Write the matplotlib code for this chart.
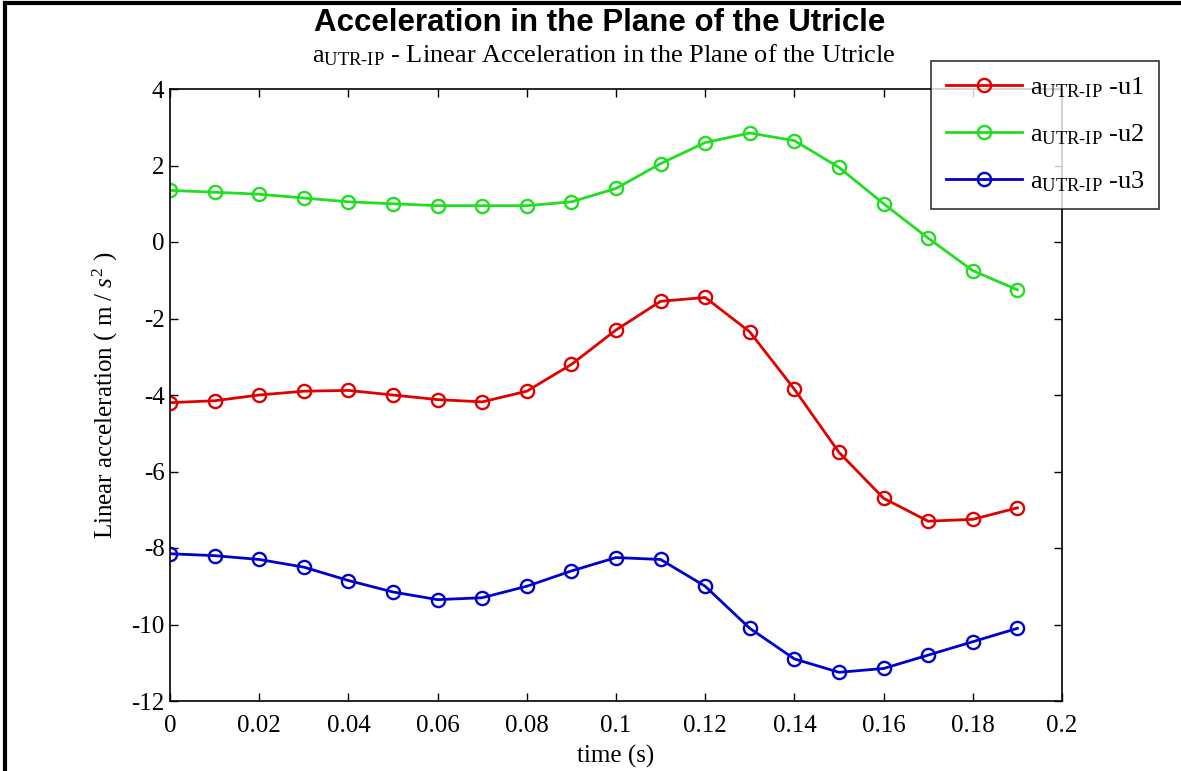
import matplotlib
matplotlib.use("Agg")
import matplotlib.pyplot as plt
from matplotlib.lines import Line2D

# time samples (s)
time = [0.00, 0.01, 0.02, 0.03, 0.04, 0.05, 0.06, 0.07, 0.08, 0.09,
        0.10, 0.11, 0.12, 0.13, 0.14, 0.15, 0.16, 0.17, 0.18, 0.19]

# linear acceleration in the plane of the utricle (m/s^2)
u1 = [-4.20, -4.15, -4.00, -3.90, -3.88, -4.00, -4.12, -4.18, -3.90, -3.20,
      -2.30, -1.55, -1.45, -2.35, -3.85, -5.50, -6.70, -7.30, -7.25, -6.95]
u2 = [1.35, 1.30, 1.25, 1.15, 1.05, 1.00, 0.95, 0.95, 0.95, 1.05,
      1.40, 2.05, 2.60, 2.85, 2.65, 1.95, 1.00, 0.10, -0.75, -1.25]
u3 = [-8.15, -8.20, -8.30, -8.50, -8.85, -9.15, -9.35, -9.30, -9.00, -8.60,
      -8.25, -8.30, -9.00, -10.10, -10.90, -11.25, -11.15, -10.80, -10.45, -10.10]

series = [("-u1", u1, "#e00000"), ("-u2", u2, "#22dd22"), ("-u3", u3, "#0000cc")]
xticks = [0, 0.02, 0.04, 0.06, 0.08, 0.1, 0.12, 0.14, 0.16, 0.18, 0.2]
xticklabels = ["0", "0.02", "0.04", "0.06", "0.08", "0.1", "0.12", "0.14", "0.16", "0.18", "0.2"]
yticks = [-12, -10, -8, -6, -4, -2, 0, 2, 4]

plt.rcParams["font.family"] = "Liberation Serif"
plt.rcParams["mathtext.fontset"] = "custom"
plt.rcParams["mathtext.rm"] = "Liberation Serif"
plt.rcParams["mathtext.it"] = "Liberation Serif:italic"
plt.rcParams["axes.unicode_minus"] = False

fig = plt.figure(figsize=(11.81, 7.71), dpi=100)
fig.patch.set_facecolor("white")
ax = fig.add_axes([170 / 1181, 1 - 701 / 771, 892 / 1181, 612 / 771])

sub = r"$\mathrm{a}_{\mathrm{UTR\text{-}IP}}$"
for name, vals, col in series:
    ax.plot(time, vals, color=col, lw=2, marker="o", ms=9.5, mfc="none",
            mec=col, mew=1.7, label=sub + " " + name)

ax.set_xlim(0, 0.2)
ax.set_ylim(-12, 4)
ax.set_xticks(xticks)
ax.set_xticklabels(xticklabels)
ax.set_yticks(yticks)
ax.tick_params(direction="in", top=True, right=True, length=6, width=1,
               labelsize=18, pad=4)
ax.tick_params(axis="x", pad=10)
for s in ax.spines.values():
    s.set_linewidth(1.2)

ax.set_xlabel("time (s)", fontsize=18, labelpad=6)
ax.set_ylabel(r"Linear acceleration ( m / $s^2$ )", fontsize=18, labelpad=8)

fig.text(600 / 1181, 1 - 23 / 771, "Acceleration in the Plane of the Utricle",
         family="Liberation Sans", fontweight="bold", fontsize=22.5,
         ha="center", va="center")
fig.text(604 / 1181, 1 - 55 / 771, sub + " - Linear Acceleration in the Plane of the Utricle",
         fontsize=19, ha="center", va="center")

leg = ax.legend(loc="upper left", bbox_to_anchor=(931 / 1181, 1 - 61 / 771),
                bbox_transform=fig.transFigure, fontsize=19, frameon=True,
                fancybox=False, edgecolor="black", handlelength=2.9,
                handletextpad=0.3, borderaxespad=0, labelspacing=0.85,
                borderpad=0.55)
leg.get_frame().set_linewidth(1.2)

# black frame on left and top edges
fig.add_artist(Line2D([5 / 1181, 5 / 1181], [0, 1 - 3 / 771], color="black",
                      lw=3, transform=fig.transFigure))
fig.add_artist(Line2D([5 / 1181, 1], [1 - 3 / 771, 1 - 3 / 771], color="black",
                      lw=3, transform=fig.transFigure))

fig.savefig("out.png", dpi=100)
